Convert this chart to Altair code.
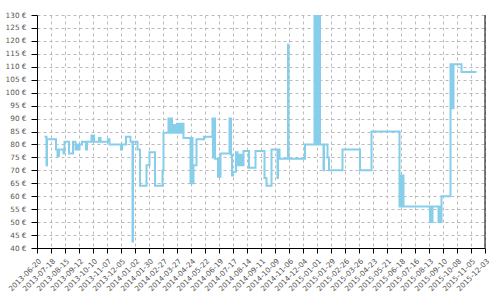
import altair as alt
import pandas as pd

dates = [
    "2013-07-05", "2013-07-09", "2013-07-10", "2013-07-28", "2013-07-31", "2013-08-01",
    "2013-08-02", "2013-08-03", "2013-08-12", "2013-08-14", "2013-08-23", "2013-08-31",
    "2013-09-05", "2013-09-08", "2013-09-09", "2013-09-10", "2013-09-11", "2013-09-13",
    "2013-09-18", "2013-09-26", "2013-09-28", "2013-10-07", "2013-10-08", "2013-10-09",
    "2013-10-10", "2013-10-11", "2013-10-12", "2013-10-22", "2013-10-25", "2013-11-09",
    "2013-11-12", "2013-12-05", "2013-12-07", "2013-12-15", "2013-12-24", "2013-12-28",
    "2013-12-29", "2014-01-07", "2014-01-12", "2014-01-25", "2014-01-31", "2014-02-11",
    "2014-02-26", "2014-02-28", "2014-03-10", "2014-03-11", "2014-03-12", "2014-03-13",
    "2014-03-14", "2014-03-15", "2014-03-16", "2014-03-17", "2014-03-19", "2014-03-21",
    "2014-03-23", "2014-03-25", "2014-03-27", "2014-03-29", "2014-03-31", "2014-04-02",
    "2014-04-04", "2014-04-06", "2014-04-08", "2014-04-09", "2014-04-23", "2014-04-25",
    "2014-04-27", "2014-04-29", "2014-05-05", "2014-05-20", "2014-06-06", "2014-06-07",
    "2014-06-08", "2014-06-09", "2014-06-10", "2014-06-11", "2014-06-17", "2014-06-18",
    "2014-06-19", "2014-06-20", "2014-06-21", "2014-06-22", "2014-07-10", "2014-07-11",
    "2014-07-12", "2014-07-13", "2014-07-15", "2014-07-17", "2014-07-23", "2014-07-26",
    "2014-07-28", "2014-07-30", "2014-08-01", "2014-08-03", "2014-08-05", "2014-08-06",
    "2014-08-07", "2014-08-18", "2014-08-31", "2014-09-18", "2014-09-22", "2014-10-02",
    "2014-10-14", "2014-10-15", "2014-10-18", "2014-11-04", "2014-11-05", "2014-12-08",
    "2014-12-27", "2014-12-28", "2014-12-29", "2014-12-30", "2014-12-31", "2015-01-01",
    "2015-01-02", "2015-01-03", "2015-01-04", "2015-01-05", "2015-01-06", "2015-01-07",
    "2015-01-14", "2015-01-15", "2015-01-22", "2015-01-25", "2015-02-21", "2015-03-28",
    "2015-04-20", "2015-06-15", "2015-06-16", "2015-06-17", "2015-06-18", "2015-06-19",
    "2015-06-20", "2015-06-21", "2015-06-22", "2015-06-23", "2015-08-15", "2015-08-16",
    "2015-08-17", "2015-08-18", "2015-08-19", "2015-08-20", "2015-09-01", "2015-09-02",
    "2015-09-03", "2015-09-04", "2015-09-05", "2015-09-06", "2015-09-07", "2015-09-25",
    "2015-09-28", "2015-09-29", "2015-09-30", "2015-10-01", "2015-10-17", "2015-11-16",
]

prices = [
    83, 72, 82, 78, 75.5, 78,
    75.5, 78, 76.5, 81, 76.5, 81,
    78, 80, 78, 80, 78, 80,
    81, 78, 81, 83.5, 81, 83.5,
    81, 83.5, 81, 82.5, 81, 82,
    80, 78, 80, 83, 81, 42.5,
    81, 78, 64, 72, 77, 64,
    70, 84.5, 90, 84.5, 90, 84.5,
    90, 84.5, 90, 84.5, 87.5, 84.5,
    87.5, 84.5, 88, 84.5, 88, 84.5,
    88, 84.5, 88, 82.5, 65, 82.5,
    65, 72, 82, 83, 90, 75,
    90, 75, 90, 74.5, 67.5, 74.5,
    67.5, 74.5, 67.5, 76.5, 90, 76.5,
    90, 76, 68, 69.5, 77, 72,
    76, 72, 76, 72, 76, 72,
    77.5, 71, 77.5, 67, 64, 78,
    67, 78, 74.5, 118.5, 74.5, 80,
    130, 80, 130, 80, 130, 80,
    130, 80, 130, 80, 130, 80,
    70, 80, 75, 70, 78, 70,
    85, 56, 68, 56, 68, 56,
    68, 56, 68, 56, 50, 56,
    50, 56, 50, 56, 50, 56,
    56, 50, 56, 50, 60, 111,
    94, 111, 94, 111, 108, 108,
]

tick_dates = [
    "2013-06-20", "2013-07-18", "2013-08-15", "2013-09-12", "2013-10-10", "2013-11-07",
    "2013-12-05", "2014-01-02", "2014-01-30", "2014-02-27", "2014-03-27", "2014-04-24",
    "2014-05-22", "2014-06-19", "2014-07-17", "2014-08-14", "2014-09-11", "2014-10-09",
    "2014-11-06", "2014-12-04", "2015-01-01", "2015-01-29", "2015-02-26", "2015-03-26",
    "2015-04-23", "2015-05-21", "2015-06-18", "2015-07-16", "2015-08-13", "2015-09-10",
    "2015-10-08", "2015-11-05", "2015-12-03",
]

y_ticks = [40, 45, 50, 55, 60, 65, 70, 75, 80, 85, 90, 95, 100, 105, 110, 115, 120, 125, 130]

df = pd.DataFrame({"date": dates, "price": prices})


def dt(s):
    y, m, d = (int(p) for p in s.split("-"))
    return alt.DateTime(year=y, month=m, date=d, utc=True)


x_scale = alt.Scale(type="utc", domain=[dt(tick_dates[0]), dt(tick_dates[-1])])

line = alt.Chart(df).mark_line(
    interpolate="step-after", color="#87CEEB", strokeWidth=2, clip=True
).encode(
    x=alt.X(
        "date:T",
        scale=x_scale,
        title=None,
        axis=alt.Axis(
            values=[dt(s) for s in tick_dates],
            tickCount=100,
            labelExpr="utcFormat(datum.value, '%Y-%m-%d')",
            labelAngle=-45,
            labelAlign="right",
            labelBaseline="top",
            labelPadding=4,
            tickSize=5,
            labelOverlap=False,
            labelBound=False,
            labelFlush=False,
        ),
    ),
    y=alt.Y(
        "price:Q",
        scale=alt.Scale(domain=[40, 130], nice=False, zero=False),
        title=None,
        axis=alt.Axis(
            values=y_ticks,
            tickCount=100,
            labelExpr="datum.value + ' €'",
            tickSize=6,
            labelPadding=5,
            labelOverlap=False,
        ),
    ),
)

border = alt.Chart(pd.DataFrame({"a": [0]})).mark_rule(color="black", strokeWidth=1).encode(
    x=alt.X(datum=dt(tick_dates[-1]), type="temporal", scale=x_scale)
)

chart = (
    alt.layer(line, border)
    .properties(
        width=448,
        height=233,
        autosize=alt.AutoSizeParams(type="none"),
        padding={"left": 37, "top": 15, "right": 15, "bottom": 52},
    )
    .configure_view(stroke=None)
    .configure_axis(
        labelFont="DejaVu Sans",
        labelFontSize=7.3,
        labelColor="#555555",
        domainColor="black",
        domainWidth=1,
        tickColor="black",
        tickWidth=1,
        gridColor="#bbbbbb",
        gridDash=[3, 3],
        gridWidth=1,
    )
)

chart.save("out.html", embed_options={"renderer": "svg", "actions": False})
